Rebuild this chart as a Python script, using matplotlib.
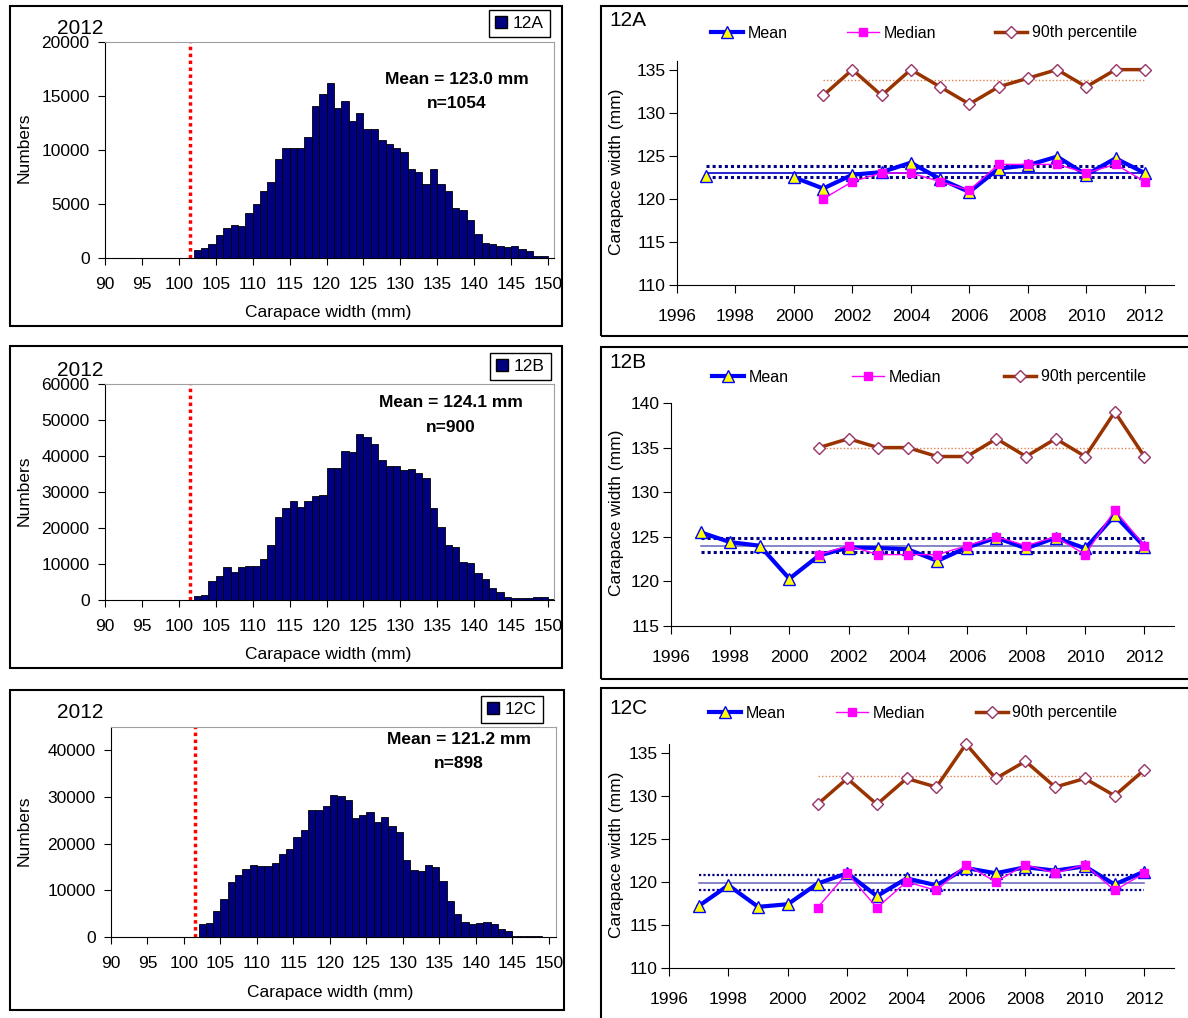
import matplotlib.pyplot as plt
import numpy as np
from matplotlib.patches import Rectangle, Patch
from matplotlib.lines import Line2D

plt.rcParams['font.family'] = ['Liberation Sans', 'DejaVu Sans']

# ---- size frequency data, 2012 (1 mm bins, left edge of bin) ----
bins_a = list(range(102, 150))
counts_a = [750, 960, 1270, 2130, 2750, 3060, 2970, 4140, 4980, 6240,
            7080, 9210, 10140, 10230, 10140, 11190, 14030, 15180, 16170, 13910,
            14560, 12640, 13380, 11960, 11960, 10970, 10570, 10230, 9800, 8250,
            8000, 6890, 8220, 6890, 6210, 4670, 4450, 3490, 2230, 1390,
            1270, 1080, 990, 1080, 800, 650, 220, 220]
bins_b = list(range(102, 151))
counts_b = [1210, 1490, 5400, 6600, 9120, 7910, 9120, 9400, 9400, 11350,
            15160, 23070, 25580, 27440, 25860, 27440, 28840, 29120, 36650, 36650,
            41400, 41020, 46050, 45210, 43260, 38790, 37300, 37300, 36090, 36370,
            35350, 33770, 25580, 20190, 15160, 14790, 10420, 10140, 7530, 5950,
            3350, 2230, 930, 650, 650, 650, 930, 930, 280]
bins_c = list(range(102, 149))
counts_c = [2700, 2990, 5480, 8110, 11740, 13240, 14660, 15440, 15160, 15160,
            15870, 17860, 18790, 21490, 22990, 27190, 27190, 28110, 30530, 30250,
            29320, 25410, 26190, 26830, 24700, 25690, 23700, 22490, 16580, 14450,
            14230, 15440, 14950, 11960, 7620, 4910, 3200, 2780, 3060, 3270,
            2700, 1780, 1280, 280, 280, 280, 280]
min_size = 101.5
hist_stats = {'12A': ('Mean = 123.0 mm', 'n=1054'),
              '12B': ('Mean = 124.1 mm', 'n=900'),
              '12C': ('Mean = 121.2 mm', 'n=898')}

# ---- time series ----
years = list(range(1997, 2013))
years_med = list(range(2001, 2013))
nan = np.nan
mean_a = [122.7, nan, nan, 122.5, 121.2, 122.8, 123.1, 124.2, 122.3, 120.8,
          123.5, 123.9, 124.9, 122.8, 124.7, 123.0]
median_a = [120, 122, 123, 123, 122, 121, 124, 124, 124, 123, 124, 122]
p90_a = [132, 135, 132, 135, 133, 131, 133, 134, 135, 133, 135, 135]
ref_a = [123.0, 123.8, 122.5, 133.8]   # overall mean, upper, lower, mean of 90th

mean_b = [125.5, 124.4, 124.0, 120.3, 122.9, 123.8, 123.75, 123.6, 122.3, 123.8,
          124.9, 123.7, 124.9, 123.7, 127.4, 123.9]
median_b = [123, 124, 123, 123, 123, 124, 125, 124, 125, 123, 128, 124]
p90_b = [135, 136, 135, 135, 134, 134, 136, 134, 136, 134, 139, 134]
ref_b = [124.0, 124.9, 123.35, 135.0]

mean_c = [117.2, 119.6, 117.1, 117.4, 119.8, 121.0, 118.35, 120.4, 119.6, 121.6,
          121.0, 121.7, 121.3, 121.8, 119.7, 121.2]
median_c = [117, 121, 117, 120, 119, 122, 120, 122, 121, 122, 119, 121]
p90_c = [129, 132, 129, 132, 131, 136, 132, 134, 131, 132, 130, 133]
ref_c = [119.9, 120.8, 119.1, 132.3]

W, H = 1188, 1018
fig = plt.figure(figsize=(W / 100, H / 100), dpi=100)


def fx(x):
    return x / W


def fy(y):
    return 1 - y / H


def rect(l, t, r, b):
    return [fx(l), fy(b), fx(r) - fx(l), fy(t) - fy(b)]


def frame(l, t, r, b):
    fig.add_artist(Rectangle((fx(l), fy(b)), fx(r) - fx(l), fy(t) - fy(b),
                             transform=fig.transFigure, fill=False,
                             ec='black', lw=1.5, zorder=5))


navy = '#000080'


def hist_panel(pos, xmax, bins, counts, ymax, yticks, name, leg_box,
               yr_xy, stat_xy, xlab_xy, ylab_xy):
    ax = fig.add_axes(rect(*pos))
    ax.bar(bins, counts, width=1, align='edge', color=navy,
           edgecolor='black', linewidth=0.6)
    ax.plot([min_size, min_size], [0, ymax], color='red', ls=(0, (1, 1)), lw=2.5)
    ax.set_xlim(90, xmax)
    ax.set_ylim(0, ymax)
    ax.set_xticks(range(90, 151, 5))
    ax.set_yticks(yticks)
    for s in ['top', 'right']:
        ax.spines[s].set_color('#a0a0a0')
    ax.tick_params(axis='both', direction='out', length=5, labelsize=12.5)
    ax.tick_params(axis='x', pad=9)
    ax.tick_params(axis='y', pad=6)
    leg = ax.legend([Patch(fc=navy, ec='black')], [name], loc='upper right',
                    bbox_to_anchor=(fx(leg_box[0]), fy(leg_box[1])),
                    bbox_transform=fig.transFigure, fancybox=False,
                    edgecolor='black', framealpha=1, fontsize=12.5,
                    handlelength=0.7, handleheight=0.7, handletextpad=0.35,
                    borderpad=0.35, borderaxespad=0)
    leg.get_frame().set_linewidth(1.0)
    fig.text(fx(yr_xy[0]), fy(yr_xy[1]), '2012', fontsize=15, ha='center', va='center')
    m, n = hist_stats[name]
    fig.text(fx(stat_xy[0]), fy(stat_xy[1]), m, fontsize=12.5, fontweight='bold',
             ha='center', va='center')
    fig.text(fx(stat_xy[0]), fy(stat_xy[1] + 24), n, fontsize=12.5, fontweight='bold',
             ha='center', va='center')
    fig.text(fx(xlab_xy[0]), fy(xlab_xy[1]), 'Carapace width (mm)', fontsize=12.5,
             ha='center', va='center')
    fig.text(fx(ylab_xy[0]), fy(ylab_xy[1]), 'Numbers', fontsize=12.5,
             rotation=90, ha='center', va='center')
    return ax


def trend_panel(pos, ylim, yticks, mean, median, p90, ref, name, name_y,
                leg_x, leg_y, colsp, ylab_y, ref_solid_color, dot_lw):
    ax = fig.add_axes(rect(*pos))
    x0, x1 = years[0], years[-1]
    ax.plot([years_med[0], x1], [ref[3], ref[3]], color='#e08050', ls=(0, (1, 1.5)), lw=1)
    ax.plot([x0, x1], [ref[0], ref[0]], color=ref_solid_color, lw=1.2)
    ax.plot([x0, x1], [ref[1], ref[1]], color=navy, ls=(0, (1, 1)), lw=dot_lw)
    ax.plot([x0, x1], [ref[2], ref[2]], color=navy, ls=(0, (1, 1)), lw=dot_lw)
    ax.plot(years, mean, color='#0000ff', lw=3, marker='^', ms=9,
            mfc='#ffff00', mec='#0000ff', mew=1, clip_on=False)
    ax.plot(years_med, median, color='#ff00ff', lw=1, marker='s', ms=5.5,
            mfc='#ff00ff', mec='#ff00ff', clip_on=False)
    ax.plot(years_med, p90, color='#993300', lw=2.5, marker='D', ms=6,
            mfc='white', mec='#993366', mew=1, clip_on=False)
    ax.set_xlim(1996, 2013)
    ax.set_ylim(*ylim)
    ax.set_xticks(range(1996, 2013, 2))
    ax.set_yticks(yticks)
    for s in ['top', 'right']:
        ax.spines[s].set_visible(False)
    ax.tick_params(axis='both', direction='out', length=6, labelsize=12.5)
    ax.tick_params(axis='x', pad=11)
    ax.tick_params(axis='y', pad=2)
    handles = [Line2D([], [], color='#0000ff', lw=3, marker='^', ms=9,
                      mfc='#ffff00', mec='#0000ff'),
               Line2D([], [], color='#ff00ff', lw=1, marker='s', ms=5.5,
                      mfc='#ff00ff', mec='#ff00ff'),
               Line2D([], [], color='#993300', lw=2.5, marker='D', ms=6,
                      mfc='white', mec='#993366')]
    ax.legend(handles, ['Mean', 'Median', '90th percentile'], loc='center left',
              bbox_to_anchor=(fx(leg_x), fy(leg_y)), bbox_transform=fig.transFigure,
              ncol=3, frameon=False, fontsize=11.5, handlelength=2.0,
              handletextpad=0.3, columnspacing=colsp, borderpad=0, borderaxespad=0)
    fig.text(fx(609), fy(name_y), name, fontsize=15, ha='left', va='center')
    fig.text(fx(617), fy(ylab_y), 'Carapace width (mm)', fontsize=12.5,
             rotation=90, ha='center', va='center')
    return ax


# frames
frame(10, 6, 562, 326)
frame(10, 346, 562, 668)
frame(10, 690, 564, 1010)
frame(601, 6, 1195, 336)
frame(601, 347, 1195, 679)
frame(601, 688, 1195, 1025)

hist_panel((105, 42, 554, 258), 150.81, bins_a, counts_a, 20000,
           range(0, 20001, 5000), '12A', (550, 10), (80, 28), (457, 79),
           (328, 312), (24, 148))
hist_panel((105, 384, 554, 600), 150.81, bins_b, counts_b, 60000,
           range(0, 60001, 10000), '12B', (551, 353), (80, 370), (451, 403),
           (328, 655), (24, 491))
hist_panel((111, 727, 556, 937), 150.96, bins_c, counts_c, 45000,
           range(0, 40001, 10000), '12C', (543, 696), (80, 712), (459, 739),
           (330, 993), (24, 831))

trend_panel((677, 61, 1174, 285), (110, 136), range(110, 136, 5), mean_a, median_a,
            p90_a, ref_a, '12A', 20, 711, 33, 3.7, 172, '#0000cc', 2.2)
trend_panel((671, 403, 1174, 626), (115, 140), range(115, 141, 5), mean_b, median_b,
            p90_b, ref_b, '12B', 363, 712, 377, 3.95, 513, '#7070c0', 2.2)
trend_panel((669, 744, 1174, 968), (110, 136), range(110, 136, 5), mean_c, median_c,
            p90_c, ref_c, '12C', 709, 709, 713, 3.15, 855, '#7070c0', 1.6)

fig.savefig('out.png', dpi=100)
